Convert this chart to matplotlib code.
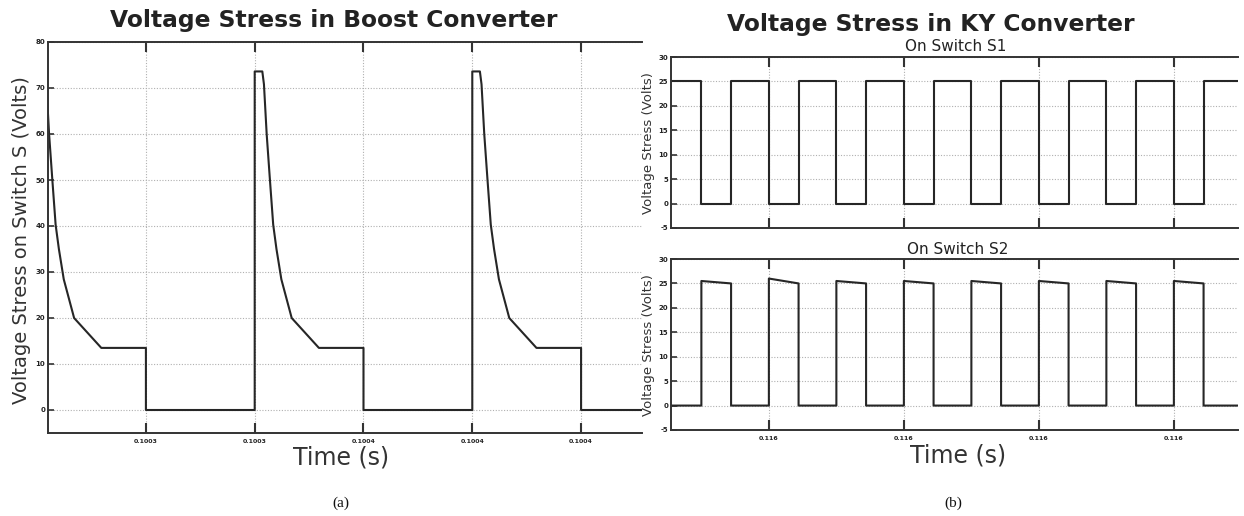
import matplotlib
matplotlib.use("Agg")
import matplotlib.pyplot as plt
import numpy as np

# ---------------- data ----------------
# Boost converter switch voltage (time in microseconds after 0.10030 s)
boost_t_us = [0.0, 0.0, 1.4, 1.7, 2.2, 2.8, 3.4, 4.0, 4.9, 6.8, 11.8, 20.0, 20.0,
              40.0, 40.0, 41.4, 41.7, 42.2, 42.8, 43.4, 44.0, 44.9, 46.8, 51.8, 60.0, 60.0,
              80.0, 80.0, 81.4, 81.7, 82.2, 82.8, 83.4, 84.0, 84.9, 86.8, 91.8, 100.0, 100.0,
              112.0]
boost_v = [0.0, 73.6, 73.6, 70.8, 60.0, 50.0, 40.3, 35.0, 28.4, 20.0, 13.5, 13.5, 0.0,
           0.0, 73.6, 73.6, 70.8, 60.0, 50.0, 40.3, 35.0, 28.4, 20.0, 13.5, 13.5, 0.0,
           0.0, 73.6, 73.6, 70.8, 60.0, 50.0, 40.3, 35.0, 28.4, 20.0, 13.5, 13.5, 0.0,
           0.0]
boost_ticks = [0.10032, 0.10034, 0.10036, 0.10038, 0.10040]
boost_ticklabels = ["0.1003", "0.1003", "0.1004", "0.1004", "0.1004"]
boost_yticks = [0, 10, 20, 30, 40, 50, 60, 70, 80]

# KY converter (time in microseconds after 0.11600 s)
ky_start_us = 5.5
ky_end_us = 89.5
ky_rise_us = [10.0, 20.0, 30.0, 40.0, 50.0, 60.0, 70.0, 80.0]   # S2 turns high / S1 low
ky_fall_us = [14.4, 24.4, 34.4, 44.4, 54.4, 64.4, 74.4, 84.4]   # S2 low / S1 high
s1_high = 25.0
s2_high_start = [25.5, 26.0, 25.5, 25.5, 25.5, 25.5, 25.5, 25.5]
s2_high_end = [25.0, 25.0, 25.0, 25.0, 25.0, 25.0, 25.0, 25.0]
ky_ticks = [0.11602, 0.11604, 0.11606, 0.11608]
ky_ticklabels = ["0.116", "0.116", "0.116", "0.116"]
ky_yticks = [-5, 0, 5, 10, 15, 20, 25, 30]

# ---------------- build step traces ----------------
t0_boost = 0.10030
bt = t0_boost + np.array(boost_t_us) * 1e-6
bv = np.array(boost_v)

t0_ky = 0.11600
s1_t = [ky_start_us]
s1_v = [s1_high]
s2_t = [ky_start_us]
s2_v = [0.0]
for r, f, a, b in zip(ky_rise_us, ky_fall_us, s2_high_start, s2_high_end):
    s1_t += [r, r, f, f]
    s1_v += [s1_high, 0.0, 0.0, s1_high]
    s2_t += [r, r, f, f]
    s2_v += [0.0, a, b, 0.0]
s1_t.append(ky_end_us); s1_v.append(s1_high)
s2_t.append(ky_end_us); s2_v.append(0.0)
s1_t = t0_ky + np.array(s1_t) * 1e-6
s2_t = t0_ky + np.array(s2_t) * 1e-6

# ---------------- figure ----------------
LINE = "#262626"
TXT = "#222222"
fig = plt.figure(figsize=(12.44, 5.16), dpi=100)
W, H = 1244, 516

def ax_at(x0, y0, x1, y1):
    return fig.add_axes([x0 / W, 1 - y1 / H, (x1 - x0) / W, (y1 - y0) / H])

def style(ax, yt, ylim, xt, xtl, show_xlabels=True):
    ax.set_ylim(*ylim)
    ax.set_yticks(yt)
    ax.set_yticklabels([str(v) for v in yt])
    ax.set_xticks(xt)
    ax.set_xticklabels(xtl if show_xlabels else [])
    ax.grid(True, linestyle=(0, (1, 1.5)), color="#b0b0b0", linewidth=0.8)
    for s in ["left", "top", "bottom"]:
        ax.spines[s].set_linewidth(1.4)
        ax.spines[s].set_color("#333333")
    ax.spines["right"].set_visible(False)
    ax.tick_params(axis="x", direction="in", top=True, bottom=True, length=7,
                   width=1.5, labelsize=4.5, pad=4, colors="#333333", labelcolor=TXT)
    ax.tick_params(axis="y", direction="in", left=True, right=False, length=4,
                   width=1.2, labelsize=5, pad=2, colors="#333333", labelcolor=TXT)
    for lab in ax.get_xticklabels() + ax.get_yticklabels():
        lab.set_fontweight("bold")

# Boost panel
axb = ax_at(48, 42, 642, 433)
axb.plot(bt, bv, color=LINE, linewidth=1.5)
axb.set_xlim(0.100302, 0.1004112)
style(axb, boost_yticks, (-5, 80), boost_ticks, boost_ticklabels)

# KY S1 panel
ax1 = ax_at(671, 57, 1238, 228)
ax1.plot(s1_t, s1_v, color=LINE, linewidth=1.5)
ax1.set_xlim(t0_ky + ky_start_us * 1e-6, t0_ky + ky_end_us * 1e-6)
style(ax1, ky_yticks, (-5, 30), ky_ticks, ky_ticklabels, show_xlabels=False)

# KY S2 panel
ax2 = ax_at(671, 259, 1238, 430)
ax2.plot(s2_t, s2_v, color=LINE, linewidth=1.5)
ax2.set_xlim(t0_ky + ky_start_us * 1e-6, t0_ky + ky_end_us * 1e-6)
style(ax2, ky_yticks, (-5, 30), ky_ticks, ky_ticklabels)

# ---------------- texts ----------------
fig.text(334 / W, 1 - 20 / H, "Voltage Stress in Boost Converter", ha="center", va="center",
         fontsize=16.8, fontweight="bold", color=TXT, family="DejaVu Sans")
fig.text(931 / W, 1 - 24 / H, "Voltage Stress in KY Converter", ha="center", va="center",
         fontsize=16.8, fontweight="bold", color=TXT, family="DejaVu Sans")
fig.text(956 / W, 1 - 47 / H, "On Switch S1", ha="center", va="center",
         fontsize=11, color=TXT)
fig.text(958 / W, 1 - 250 / H, "On Switch S2", ha="center", va="center",
         fontsize=11, color=TXT)
fig.text(22 / W, 1 - 240 / H, "Voltage Stress on Switch S (Volts)", rotation=90,
         ha="center", va="center", fontsize=14, color="#333333")
fig.text(649 / W, 1 - 143 / H, "Voltage Stress (Volts)", rotation=90,
         ha="center", va="center", fontsize=9.5, color="#333333")
fig.text(649 / W, 1 - 345 / H, "Voltage Stress (Volts)", rotation=90,
         ha="center", va="center", fontsize=9.5, color="#333333")
fig.text(341 / W, 1 - 458 / H, "Time (s)", ha="center", va="center",
         fontsize=17, color="#333333")
fig.text(958 / W, 1 - 456 / H, "Time (s)", ha="center", va="center",
         fontsize=17, color="#333333")
fig.text(341 / W, 1 - 503 / H, "(a)", ha="center", va="center",
         fontsize=11, color="#111111", family="Liberation Serif")
fig.text(953 / W, 1 - 503 / H, "(b)", ha="center", va="center",
         fontsize=11, color="#111111", family="Liberation Serif")

fig.savefig("out.png", dpi=100)
